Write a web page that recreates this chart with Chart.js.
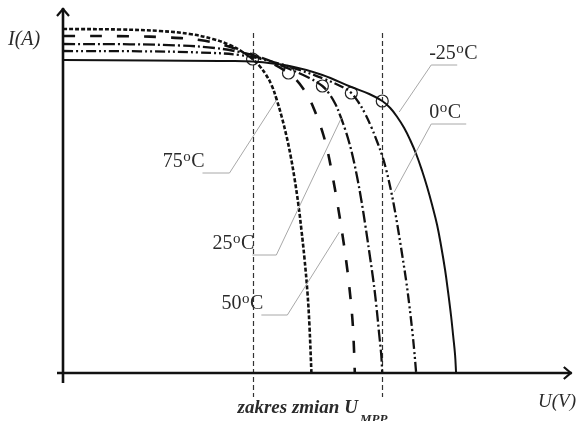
<!DOCTYPE html>
<html>
<head>
<meta charset="utf-8">
<script src="https://cdn.jsdelivr.net/npm/chart.js@4/dist/chart.umd.min.js"></script>
<style>
  html, body { margin: 0; padding: 0; background: #fff; }
  #wrap { width: 579px; height: 421px; }
</style>
</head>
<body>
<div id="wrap"><canvas id="c" width="579" height="421"></canvas></div>
<script>
// I–U characteristics of a PV module for five cell temperatures (schematic)
const temperatures = ['75', '50', '25', '0', '-25'];

const u75 = [0, 5.7, 9.7, 12.7, 15.0, 16.7, 18.0, 19.0, 19.7, 20.3, 20.9, 21.4, 21.9, 22.4, 22.8, 23.2, 23.6, 23.9, 24.2, 24.5, 24.7, 24.9];
const i75 = [34.4, 34.35, 34.2, 33.9, 33.4, 32.8, 32.1, 31.4, 30.7, 29.9, 28.8, 27.4, 25.7, 23.7, 21.8, 19.5, 16.8, 14.3, 11.5, 8.1, 4.8, 0];

const u50 = [0, 6.7, 10.7, 13.7, 15.9, 17.7, 19.0, 20.7, 22.6, 23.4, 24.1, 24.7, 25.2, 25.7, 26.1, 26.5, 27.0, 27.5, 28.0, 28.4, 28.7, 29.0, 29.15, 29.25];
const i50 = [33.7, 33.67, 33.55, 33.3, 32.85, 32.3, 31.8, 31.1, 30.0, 29.3, 28.4, 27.4, 26.3, 25.0, 23.8, 22.3, 19.8, 17.0, 13.9, 11.1, 8.6, 5.5, 2.8, 0];

const u25 = [0, 6.7, 11.7, 15.2, 17.7, 19.7, 22.7, 24.7, 26.0, 26.7, 27.3, 27.8, 28.3, 28.7, 29.1, 29.5, 29.9, 30.3, 30.7, 31.1, 31.4, 31.7, 31.9, 32.0];
const i25 = [32.9, 32.87, 32.75, 32.5, 32.1, 31.6, 30.4, 29.5, 28.7, 27.9, 26.9, 25.7, 24.3, 23.0, 21.4, 19.5, 17.3, 14.8, 12.1, 9.3, 6.8, 3.8, 1.8, 0];

const u0 = [0, 7.7, 13.7, 17.7, 20.7, 23.7, 26.2, 28.2, 28.9, 29.6, 30.3, 30.9, 31.5, 32.0, 32.4, 32.8, 33.2, 33.6, 34.0, 34.4, 34.7, 35.0, 35.2, 35.4];
const i0 = [32.2, 32.17, 32.05, 31.8, 31.2, 30.3, 29.4, 28.5, 28.0, 27.1, 25.9, 24.6, 23.1, 21.7, 20.3, 18.6, 16.6, 14.3, 11.8, 9.2, 6.9, 4.3, 2.3, 0];

const uM25 = [0, 8.7, 15.7, 19.0, 22.7, 26.0, 28.9, 30.7, 32.0, 32.8, 33.5, 34.2, 34.8, 35.4, 36.0, 36.5, 37.0, 37.5, 37.9, 38.3, 38.6, 38.9, 39.1, 39.3, 39.4];
const iM25 = [31.3, 31.25, 31.2, 31.15, 30.7, 29.8, 28.6, 27.9, 27.2, 26.5, 25.6, 24.5, 23.3, 21.9, 20.2, 18.6, 16.8, 14.8, 12.7, 10.3, 8.1, 5.7, 3.8, 1.8, 0];

// maximum power points, one per temperature (75 → -25 °C)
const mppU = [19.0, 22.6, 26.0, 28.9, 32.0];
const mppI = [31.4, 30.0, 28.7, 28.0, 27.2];

// range swept by U_MPP
const mppRangeU = [19.0, 32.0];

const pts = (u, i) => u.map((v, k) => ({ x: v, y: i[k] }));

const curveStyle = {
  '75':  { dash: [4, 2],               width: 2.6 },
  '50':  { dash: [12, 15],             width: 2.6 },
  '25':  { dash: [12, 3, 2, 3],        width: 2.3 },
  '0':   { dash: [10, 3, 2, 3, 2, 3],  width: 2.3 },
  '-25': { dash: [],                   width: 2.0 }
};
const curveData = {
  '75': pts(u75, i75), '50': pts(u50, i50), '25': pts(u25, i25),
  '0': pts(u0, i0), '-25': pts(uM25, iM25)
};

const datasets = temperatures.map(t => ({
  label: t + ' °C',
  data: curveData[t],
  showLine: true,
  borderColor: '#111',
  borderWidth: curveStyle[t].width,
  borderDash: curveStyle[t].dash,
  borderCapStyle: 'butt',
  pointRadius: 0,
  tension: 0.4,
  fill: false,
  clip: 6
}));
datasets.push({
  label: 'MPP',
  data: pts(mppU, mppI),
  showLine: false,
  pointRadius: 6,
  pointBorderWidth: 1.2,
  pointBorderColor: '#222',
  pointBackgroundColor: 'rgba(0,0,0,0)',
  clip: false
});

// temperature labels with leader lines: anchor on curve (data units),
// elbow offset from anchor (px), shelf length (px, sign = direction)
const tempLabels = [
  { t: '75',  at: [21.4, 27.3], elbow: [-47, 73],  shelf: -27 },
  { t: '25',  at: [27.9, 25.5], elbow: [-65, 137], shelf: -24 },
  { t: '50',  at: [27.7, 14.1], elbow: [-52, 83],  shelf: -26 },
  { t: '-25', at: [33.7, 26.1], elbow: [32, -47],  shelf: 26 },
  { t: '0',   at: [33.2, 18.1], elbow: [37, -68],  shelf: 35 }
];

const SERIF = '"Liberation Serif", "DejaVu Serif", serif';

function drawTempText(ctx, t, x, y, alignRight) {
  const big = '20px ' + SERIF, small = '15px ' + SERIF;
  ctx.font = big;  const w1 = ctx.measureText(t).width;
  const wc = ctx.measureText('C').width;
  ctx.font = small; const wo = ctx.measureText('o').width;
  const total = w1 + wo + wc + 1;
  const x0 = alignRight ? x - total : x;
  ctx.textAlign = 'left';
  ctx.textBaseline = 'alphabetic';
  ctx.fillStyle = '#2a2a2a';
  ctx.font = big;  ctx.fillText(t, x0, y);
  ctx.font = small; ctx.fillText('o', x0 + w1 + 0.5, y - 6);
  ctx.font = big;  ctx.fillText('C', x0 + w1 + wo + 1, y);
}

const schematic = {
  id: 'schematic',
  beforeDatasetsDraw(chart) {
    const { ctx, scales: { x, y } } = chart;
    // dashed verticals bounding the U_MPP range
    ctx.save();
    ctx.strokeStyle = '#333';
    ctx.lineWidth = 1.2;
    ctx.setLineDash([5, 3]);
    mppRangeU.forEach(u => {
      const px = Math.round(x.getPixelForValue(u)) + 0.5;
      ctx.beginPath();
      ctx.moveTo(px, y.getPixelForValue(34));
      ctx.lineTo(px, y.bottom + 24);
      ctx.stroke();
    });
    ctx.restore();
  },
  afterDatasetsDraw(chart) {
    const { ctx, chartArea: a, scales: { x, y } } = chart;
    ctx.save();
    // axes with open arrowheads
    ctx.strokeStyle = '#111';
    ctx.lineWidth = 2.6;
    ctx.setLineDash([]);
    ctx.lineCap = 'butt';
    const ox = x.getPixelForValue(0), oy = y.getPixelForValue(0);
    ctx.beginPath();
    ctx.moveTo(ox, oy + 10); ctx.lineTo(ox, a.top);
    ctx.moveTo(ox - 6, oy); ctx.lineTo(a.right, oy);
    ctx.stroke();
    ctx.lineWidth = 2.2;
    ctx.lineJoin = 'miter';
    ctx.beginPath();
    ctx.moveTo(ox - 6, a.top + 8); ctx.lineTo(ox, a.top + 1); ctx.lineTo(ox + 6, a.top + 8);
    ctx.moveTo(a.right - 8, oy - 6); ctx.lineTo(a.right - 1, oy); ctx.lineTo(a.right - 8, oy + 6);
    ctx.stroke();

    // leader lines and temperature labels
    ctx.strokeStyle = '#a8a8a8';
    ctx.lineWidth = 1;
    tempLabels.forEach(l => {
      const px = x.getPixelForValue(l.at[0]), py = y.getPixelForValue(l.at[1]);
      const ex = px + l.elbow[0], ey = py + l.elbow[1];
      ctx.beginPath();
      ctx.moveTo(px, py); ctx.lineTo(ex, ey); ctx.lineTo(ex + l.shelf, ey);
      ctx.stroke();
      if (l.shelf < 0) drawTempText(ctx, l.t, ex + l.shelf + 2, ey - 6, true);
      else drawTempText(ctx, l.t, ex - 2, ey - 6, false);
    });

    // axis titles
    ctx.fillStyle = '#2a2a2a';
    ctx.textBaseline = 'alphabetic';
    ctx.textAlign = 'left';
    ctx.font = 'italic 20px ' + SERIF;
    ctx.fillText('I(A)', 8, 45);
    ctx.font = 'italic 19px ' + SERIF;
    ctx.fillText('U(V)', 538, oy + 34);

    // caption under the U_MPP range
    const r0 = x.getPixelForValue(mppRangeU[0]);
    const cap = 'zakres zmian U';
    ctx.font = 'italic bold 19px ' + SERIF;
    const wcap = ctx.measureText(cap).width;
    ctx.fillText(cap, r0 - 15, oy + 40);
    ctx.font = 'italic bold 13px ' + SERIF;
    ctx.fillText('MPP', r0 - 15 + wcap + 2, oy + 50);
    ctx.restore();
  }
};

new Chart(document.getElementById('c'), {
  type: 'scatter',
  data: { datasets },
  options: {
    responsive: false,
    animation: false,
    layout: { padding: { left: 63, right: 6, top: 8, bottom: 48 } },
    scales: {
      x: { type: 'linear', min: 0, max: 51, display: false },
      y: { type: 'linear', min: 0, max: 36.5, display: false }
    },
    plugins: { legend: { display: false }, tooltip: { enabled: false } }
  },
  plugins: [schematic]
});
</script>
</body>
</html>
